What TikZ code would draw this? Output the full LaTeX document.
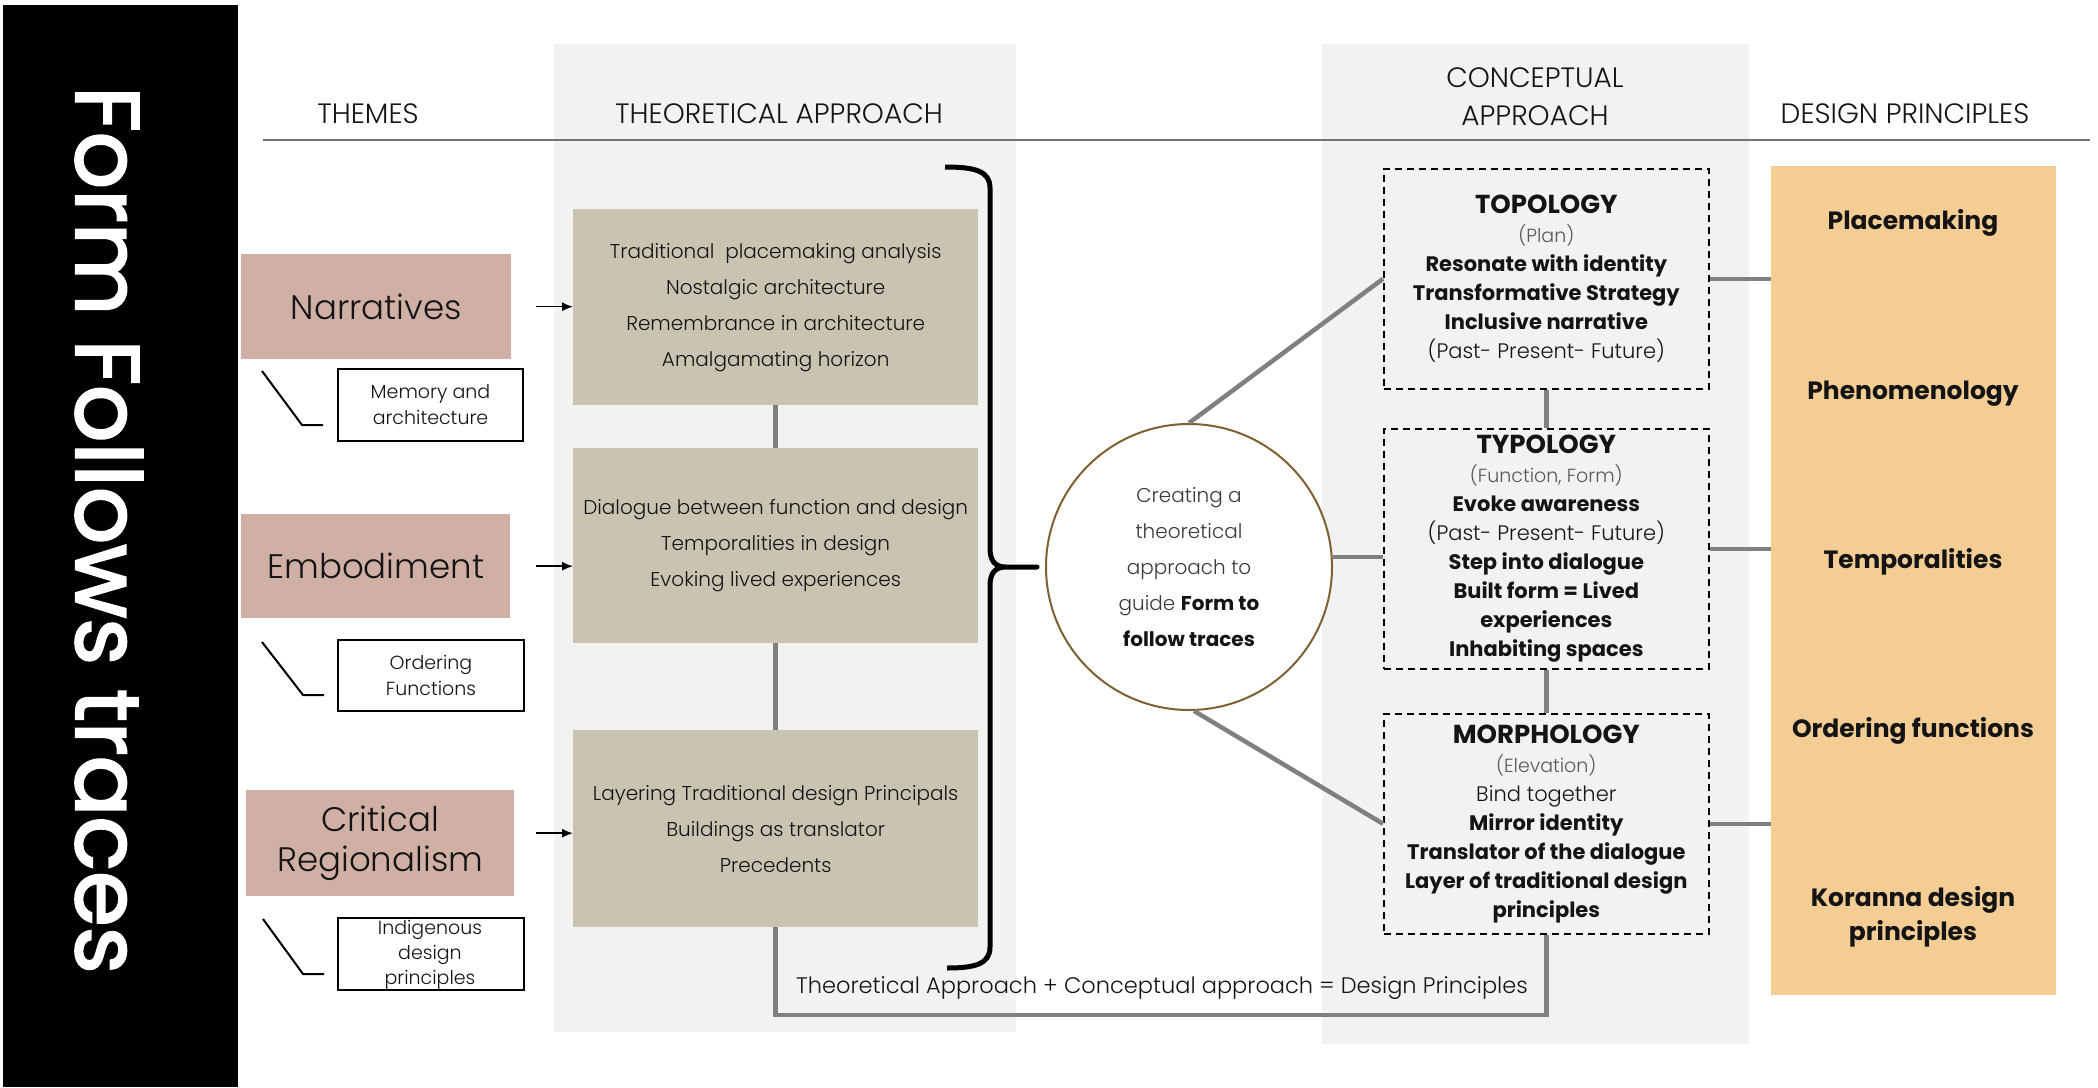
\documentclass[tikz,border=0pt]{standalone}
\usepackage{fontspec}
\setmainfont{Poppins}[UprightFont={* Light}, BoldFont={* Bold}]
\newfontfamily\titlefont{Poppins}
\usetikzlibrary{arrows.meta,calc}
\definecolor{panelgray}{HTML}{F2F2F2}
\definecolor{tan}{HTML}{C9C4B2}
\definecolor{pink}{HTML}{D0AFA4}
\definecolor{sand}{HTML}{F3CD94}
\definecolor{conngray}{HTML}{808080}
\definecolor{ringbrown}{HTML}{7F6030}
\definecolor{ink}{HTML}{141414}
\definecolor{softink}{HTML}{3A3A3A}
\definecolor{notegray}{HTML}{595959}
\newcommand{\fs}[2]{\fontsize{#1}{#2}\selectfont}
\begin{document}
\begin{tikzpicture}[x=1pt,y=-1pt,
  corner/.style={rectangle, inner sep=0pt, anchor=north west},
  panel/.style={corner, fill=panelgray},
  hdr/.style={text=ink, font=\fs{28}{38}, inner sep=0pt, align=center},
  theme/.style={corner, fill=pink, text=ink, font=\fs{34}{40}, align=center},
  note/.style={corner, draw=black, line width=2pt, fill=white, text=ink, font=\fs{19}{26}, align=center},
  tanbox/.style={corner, fill=tan, text=ink, font=\fs{20}{36}, align=center},
  concept/.style={corner, draw=black, dash pattern=on 7pt off 5pt, line width=1.6pt, text=ink, font=\fs{21}{29}\bfseries, align=center},
  dplabel/.style={text=ink, font=\fs{25}{34}\bfseries, align=center, inner sep=0pt},
  conn/.style={draw=conngray, line width=4.5pt},
  arr/.style={draw=black, line width=1.5pt, -{Latex[length=11pt,width=9pt]}},
  callout/.style={draw=black, line width=2pt}]
\useasboundingbox (0,0) rectangle (2098,1087);

% column panels
\node[panel, minimum width=462, minimum height=988] (thpanel) at (554,44) {};
\node[panel, minimum width=427, minimum height=1000] (cpanel) at (1322,44) {};

% title bar
\node[corner, fill=black, minimum width=235, minimum height=1082] (bar) at (3,5) {};
\node[rotate=-90, text=white, font=\titlefont\addfontfeature{FakeBold=2.5}\fs{90}{90}, inner sep=0pt] (title) at (109,530) {Form Follows traces};

% column headers
\node[hdr] (hthemes) at (368,114) {THEMES};
\node[hdr] (htheo) at (779,114) {THEORETICAL APPROACH};
\node[hdr] (hconc) at (1535,97) {CONCEPTUAL\\APPROACH};
\node[hdr] (hdp) at (1905,114) {DESIGN PRINCIPLES};
\coordinate (hl1) at (263,140);
\coordinate (hl2) at (2090,140);
\draw[draw=conngray!90!black, line width=2pt] (hl1) -- (hl2);

% themes
\node[theme, minimum width=270, minimum height=105] (narr) at (241,254) {Narratives};
\node[theme, minimum width=269, minimum height=104] (emb) at (241,514) {Embodiment};
\node[theme, minimum width=268, minimum height=106] (crit) at (246,790) {Critical\\Regionalism};

\node[note, minimum width=185, minimum height=72] (mem) at (337,368) {Memory and\\architecture};
\node[note, minimum width=186, minimum height=71] (ord) at (337,639) {Ordering\\Functions};
\node[note, minimum width=186, minimum height=72] (ind) at (337,917) {};
\node[text=ink, font=\fs{19}{25}, align=center, inner sep=0pt] (indtxt) at (430,955) {Indigenous\\design\\principles};

% callout strokes
\coordinate (m1) at (262,371); \coordinate (m2) at (302,425); \coordinate (m3) at (323,425);
\coordinate (o1) at (262,642); \coordinate (o2) at (303,695); \coordinate (o3) at (324,695);
\coordinate (i1) at (263,919); \coordinate (i2) at (303,974); \coordinate (i3) at (324,974);
\draw[callout] (m1) -- (m2) -- (m3);
\draw[callout] (o1) -- (o2) -- (o3);
\draw[callout] (i1) -- (i2) -- (i3);

% theoretical approach boxes
\node[tanbox, minimum width=405, minimum height=196] (th1) at (573,209)
  {Traditional\ \ placemaking analysis\\Nostalgic architecture\\Remembrance in architecture\\Amalgamating horizon};
\node[tanbox, minimum width=405, minimum height=195] (th2) at (573,448)
  {Dialogue between function and design\\Temporalities in design\\Evoking lived experiences};
\node[tanbox, minimum width=405, minimum height=197] (th3) at (573,730)
  {Layering Traditional design Principals\\Buildings as translator\\Precedents};

% arrows from themes
\coordinate (critout) at ([yshift=10pt]crit.east);
\draw[arr] ([xshift=25pt]narr.east) -- (narr.east -| th1.west);
\draw[arr] ([xshift=26pt]emb.east) -- (emb.east -| th2.west);
\draw[arr] ([xshift=22pt]critout) -- (critout -| th3.west);

% links between theoretical boxes
\draw[conn] (th1) -- (th2);
\draw[conn] (th2) -- (th3);

% brace gathering the theoretical approach
\coordinate (bt) at (945,167);
\coordinate (bb) at (947,968);
\coordinate (btip) at (1037,567);
\draw[line width=5pt, line join=round] (bt) .. controls (975,167) and (990,171) .. (990,188)
  -- (990,548) .. controls (990,561) and (995,567) .. (1006,567) -- (btip) -- (1006,567)
  .. controls (995,567) and (990,573) .. (990,586) -- (990,947)
  .. controls (990,964) and (975,968) .. (bb);

% central circle
\node[circle, draw=ringbrown, line width=2pt, fill=white, minimum size=286, inner sep=0pt,
      align=center, text=softink, font=\fs{20}{36}] (circ) at (1189,567)
  {Creating a\\theoretical\\approach to\\guide {\color{ink}\bfseries Form to}\\{\color{ink}\bfseries follow traces}};

% conceptual approach
\node[concept, minimum width=325, minimum height=220] (topo) at (1383,168)
  {{\fs{26}{29}TOPOLOGY}\\{\mdseries\color{notegray}\fs{19}{29}(Plan)}\\Resonate with identity\\Transformative Strategy\\Inclusive narrative\\{\mdseries (Past- Present- Future)}};
\node[concept, minimum width=325, minimum height=240] (typo) at (1383,428)
  {{\fs{26}{29}TYPOLOGY}\\{\mdseries\color{notegray}\fs{19}{29}(Function, Form)}\\Evoke awareness\\{\mdseries (Past- Present- Future)}\\Step into dialogue\\Built form = Lived\\experiences\\Inhabiting spaces};
\node[concept, minimum width=325, minimum height=220] (morph) at (1383,713)
  {{\fs{26}{29}MORPHOLOGY}\\{\mdseries\color{notegray}\fs{19}{29}(Elevation)}\\{\mdseries Bind together}\\Mirror identity\\Translator of the dialogue\\Layer of traditional design\\principles};

% design principles
\node[corner, fill=sand, minimum width=285, minimum height=829] (dp) at (1771,166) {};
\node[dplabel] (p1) at (1913,223) {Placemaking};
\node[dplabel] (p2) at (1913,394) {Phenomenology};
\node[dplabel] (p3) at (1913,562) {Temporalities};
\node[dplabel] (p4) at (1913,731) {Ordering functions};
\node[dplabel] (p5) at (1913,917) {Koranna design\\principles};

% links
\draw[conn] (circ.north) -- (topo.west);
\draw[conn] (circ.4) -- (circ.4 -| typo.west);
\draw[conn] (circ.-88) -- (morph.west);
\draw[conn] (topo) -- (typo);
\draw[conn] (typo) -- (morph);
\draw[conn] (topo.east) -- (topo.east -| dp.west);
\draw[conn] (typo.east) -- (typo.east -| dp.west);
\draw[conn] (morph.east) -- (morph.east -| dp.west);
\coordinate (botmid) at (1160,1015);
\draw[conn] (th3.south) |- (botmid) -| (morph.south);

\node[text=ink, font=\fs{22.5}{26}, inner sep=0pt] (sum) at (1162,988)
  {Theoretical Approach + Conceptual approach = Design Principles};
\end{tikzpicture}
\end{document}
